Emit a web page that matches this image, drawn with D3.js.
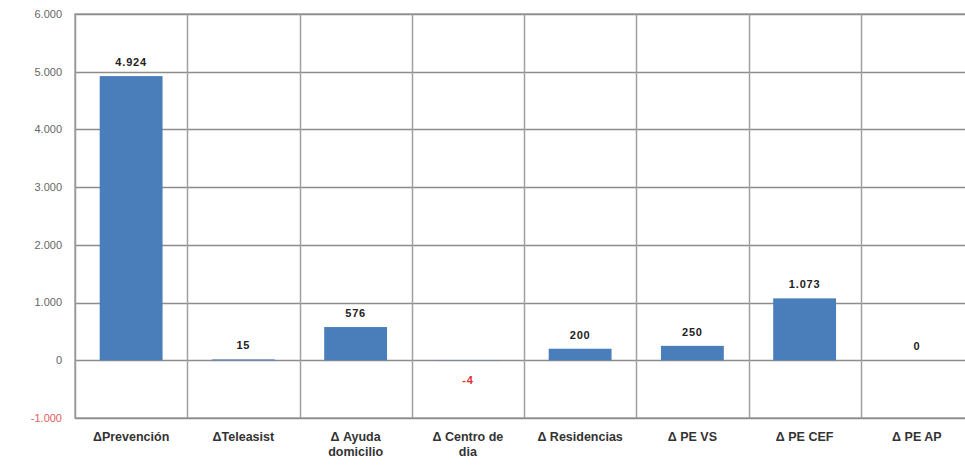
<!DOCTYPE html>
<html><head><meta charset="utf-8">
<script src="https://cdn.jsdelivr.net/npm/d3@7"></script>
<style>
html,body{margin:0;padding:0;background:#fff;}
svg{display:block;}
</style></head>
<body>
<svg id="c" width="965" height="473"></svg>
<script>
const categories = ["ΔPrevención","ΔTeleasist","Δ Ayuda domicilio","Δ Centro de dia","Δ Residencias","Δ PE VS","Δ PE CEF","Δ PE AP"];
const categoryLines = [["ΔPrevención"],["ΔTeleasist"],["Δ Ayuda","domicilio"],["Δ Centro de","dia"],["Δ Residencias"],["Δ PE VS"],["Δ PE CEF"],["Δ PE AP"]];
const values = [4924, 15, 576, -4, 200, 250, 1073, 0];
const yTicks = [-1000, 0, 1000, 2000, 3000, 4000, 5000, 6000];

(function(){
const svg = d3.select("#c");
const FONT = "'Liberation Sans Narrow','Arial Narrow','Liberation Sans',Arial,sans-serif";
const pL = 75, pR = 973, pT = 14, pB = 418;

const loc = d3.formatLocale({decimal:",", thousands:".", grouping:[3], currency:["",""], minus:"-"});
const fmt = loc.format(",d");

const x = d3.scaleBand().domain(categories).range([pL, pR]).padding(0);
const y = d3.scaleLinear().domain([-1000, 6000]).range([pB, pT]);

svg.append("rect").attr("x", pL).attr("y", pT).attr("width", pR-pL).attr("height", pB-pT)
  .attr("fill", "#fff").attr("stroke", "#a6a6a6").attr("stroke-width", 1.5);

svg.append("g").selectAll("line").data(yTicks).join("line")
  .attr("x1", pL).attr("x2", pR)
  .attr("y1", d => Math.round(y(d)) + 0.5).attr("y2", d => Math.round(y(d)) + 0.5)
  .attr("stroke", "#8c8c8c").attr("stroke-width", 1.5);

svg.append("g").selectAll("line").data(categories.slice(1)).join("line")
  .attr("x1", d => Math.round(x(d)) + 0.5).attr("x2", d => Math.round(x(d)) + 0.5)
  .attr("y1", pT).attr("y2", pB)
  .attr("stroke", "#a0a0a0").attr("stroke-width", 1.5);

svg.append("line").attr("x1", pL+0.5).attr("x2", pL+0.5).attr("y1", pT).attr("y2", pB)
  .attr("stroke", "#9a9a9a").attr("stroke-width", 1.5);

svg.append("g").selectAll("text").data(yTicks).join("text")
  .attr("x", 62).attr("y", d => y(d)).attr("dy", "0.35em")
  .attr("text-anchor", "end")
  .attr("font-family", FONT).attr("font-size", 11)
  .attr("fill", d => d < 0 ? "#e06060" : "#666")
  .text(d => fmt(d));

const bw = x.bandwidth() * 0.56;
const rows = values.map((v,i)=>({c:categories[i], v}));
svg.append("g").selectAll("rect").data(rows)
  .join("rect")
  .attr("x", d => x(d.c) + (x.bandwidth() - bw)/2)
  .attr("width", bw)
  .attr("y", d => y(Math.max(d.v, 0)))
  .attr("height", d => Math.abs(y(d.v) - y(0)))
  .attr("fill", "#4a7ebb");

svg.append("g").selectAll("text").data(rows)
  .join("text")
  .attr("x", d => x(d.c) + x.bandwidth()/2)
  .attr("y", d => d.v < 0 ? y(d.v) + 23 : y(d.v) - 10)
  .attr("text-anchor", "middle")
  .attr("font-family", FONT).attr("font-size", 11).attr("font-weight", "bold")
  .attr("letter-spacing", 0.8)
  .attr("fill", d => d.v < 0 ? "#e03030" : "#222")
  .text(d => fmt(d.v));

const cg = svg.append("g").selectAll("text").data(categoryLines.map((l,i)=>({c:categories[i], l})))
  .join("text")
  .attr("x", d => x(d.c) + x.bandwidth()/2)
  .attr("y", 441)
  .attr("text-anchor", "middle")
  .attr("font-family", FONT).attr("font-size", 12.5).attr("font-weight", "bold")
  .attr("fill", "#333");
cg.selectAll("tspan").data(d => d.l.map(t => ({t, x: x(d.c) + x.bandwidth()/2})))
  .join("tspan")
  .attr("x", d => d.x)
  .attr("dy", (d,i) => i ? 15 : 0)
  .text(d => d.t);
})();
</script>
</body></html>
